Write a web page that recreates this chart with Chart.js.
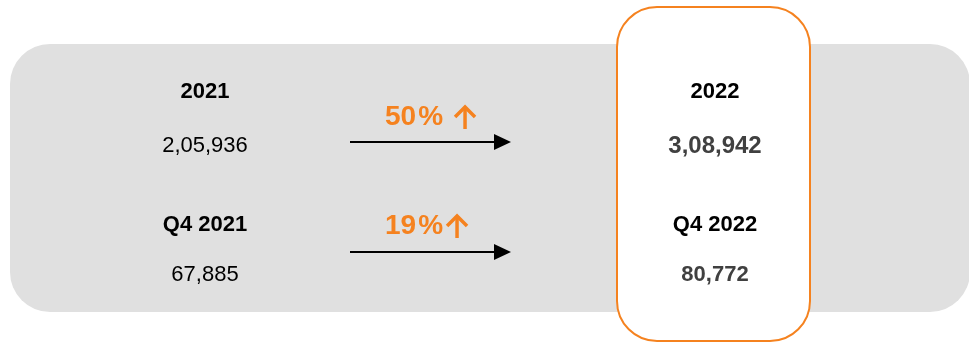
<!DOCTYPE html>
<html>
<head>
<meta charset="utf-8">
<script src="https://cdn.jsdelivr.net/npm/chart.js@4.4.1/dist/chart.umd.min.js"></script>
<style>
  html, body { margin: 0; padding: 0; background: #fff; }
  #wrap { width: 969px; height: 343px; }
</style>
</head>
<body>
<div id="wrap"><canvas id="growthChart" width="969" height="343"></canvas></div>
<script>
// data
const periodLabels = ['2021', 'Q4 2021'];
const currentLabels = ['2022', 'Q4 2022'];
const previousValues = [205936, 67885];
const currentValues = [308942, 80772];
const growthPct = [50, 19];

// layout (in scale units = px of the 969x343 box)
const layout = {
    prevX: 205, currX: 715, pctX: 385,
    arrowFrom: 350, arrowTo: 511,
    labelY: [92, 225], valueY: [146, 275], pctY: [117, 226], arrowY: [142, 252],
    upGap: [11, 3],
    currValueSize: [24, 22]
};

const ORANGE = '#f5821f';

function fmtIN(n) {
    const s = String(n);
    if (s.length <= 3) return s;
    const last3 = s.slice(-3);
    const rest = s.slice(0, -3).replace(/\B(?=(\d{2})+(?!\d))/g, ',');
    return rest + ',' + last3;
}

function roundRect(ctx, x, y, w, h, r) {
    ctx.beginPath();
    ctx.moveTo(x + r, y);
    ctx.lineTo(x + w - r, y);
    ctx.arcTo(x + w, y, x + w, y + r, r);
    ctx.lineTo(x + w, y + h - r);
    ctx.arcTo(x + w, y + h, x + w - r, y + h, r);
    ctx.lineTo(x + r, y + h);
    ctx.arcTo(x, y + h, x, y + h - r, r);
    ctx.lineTo(x, y + r);
    ctx.arcTo(x, y, x + r, y, r);
    ctx.closePath();
}

const infographic = {
    id: 'infographic',
    beforeDatasetsDraw(chart) {
        const ctx = chart.ctx;
        const X = v => chart.scales.x.getPixelForValue(v);
        const Y = v => chart.scales.y.getPixelForValue(v);
        ctx.save();

        // grey band
        ctx.fillStyle = '#e0e0e0';
        roundRect(ctx, X(10), Y(44), X(970) - X(10), Y(312) - Y(44), 40);
        ctx.fill();

        // highlighted current column
        ctx.fillStyle = '#ffffff';
        ctx.strokeStyle = ORANGE;
        ctx.lineWidth = 2;
        roundRect(ctx, X(617), Y(7), X(810) - X(617), Y(341) - Y(7), 40);
        ctx.fill();
        ctx.stroke();

        ctx.textAlign = 'center';
        ctx.textBaseline = 'middle';
        const ff = '"Liberation Sans", Arial, sans-serif';

        periodLabels.forEach((lab, i) => {
            // previous period
            ctx.fillStyle = '#000';
            ctx.font = 'bold 22px ' + ff;
            ctx.fillText(lab, X(layout.prevX), Y(layout.labelY[i]));
            ctx.font = '22px ' + ff;
            ctx.fillText(fmtIN(previousValues[i]), X(layout.prevX), Y(layout.valueY[i]));

            // current period
            ctx.font = 'bold 22px ' + ff;
            ctx.fillText(currentLabels[i], X(layout.currX), Y(layout.labelY[i]));
            ctx.fillStyle = '#404040';
            ctx.font = 'bold ' + layout.currValueSize[i] + 'px ' + ff;
            ctx.fillText(fmtIN(currentValues[i]), X(layout.currX), Y(layout.valueY[i]));

            // growth text
            ctx.fillStyle = ORANGE;
            ctx.font = 'bold 28px ' + ff;
            ctx.textAlign = 'left';
            const num = String(growthPct[i]);
            const nw = ctx.measureText(num).width;
            ctx.fillText(num, X(layout.pctX), Y(layout.pctY[i]));
            ctx.fillText('%', X(layout.pctX) + nw + 2, Y(layout.pctY[i]));
            ctx.textAlign = 'center';
            const w = nw + 2 + ctx.measureText('%').width;
            const ax = X(layout.pctX) + w + layout.upGap[i] + 11;
            const ay = Y(layout.pctY[i]);
            ctx.strokeStyle = ORANGE;
            ctx.lineWidth = 3.5;
            ctx.lineCap = 'butt';
            ctx.beginPath();
            ctx.moveTo(ax, ay + 12);
            ctx.lineTo(ax, ay - 9);
            ctx.stroke();
            ctx.beginPath();
            ctx.moveTo(ax - 10, ay);
            ctx.lineTo(ax, ay - 10);
            ctx.lineTo(ax + 10, ay);
            ctx.stroke();

            // black arrow
            const y = Y(layout.arrowY[i]);
            ctx.strokeStyle = '#000';
            ctx.lineWidth = 2;
            ctx.beginPath();
            ctx.moveTo(X(layout.arrowFrom), y);
            ctx.lineTo(X(layout.arrowTo) - 14, y);
            ctx.stroke();
            ctx.fillStyle = '#000';
            ctx.beginPath();
            ctx.moveTo(X(layout.arrowTo), y);
            ctx.lineTo(X(layout.arrowTo) - 17, y - 8);
            ctx.lineTo(X(layout.arrowTo) - 17, y + 8);
            ctx.closePath();
            ctx.fill();
        });
        ctx.restore();
    }
};

new Chart(document.getElementById('growthChart').getContext('2d'), {
    type: 'scatter',
    data: {
        datasets: [{
            label: 'values',
            data: previousValues.map((v, i) => ({ x: layout.prevX, y: layout.valueY[i] }))
                .concat(currentValues.map((v, i) => ({ x: layout.currX, y: layout.valueY[i] }))),
            pointRadius: 0
        }]
    },
    options: {
        responsive: false,
        animation: false,
        devicePixelRatio: 1,
        layout: { padding: 0 },
        scales: {
            x: { type: 'linear', min: 0, max: 969, display: false },
            y: { type: 'linear', min: 0, max: 343, reverse: true, display: false }
        },
        plugins: { legend: { display: false }, tooltip: { enabled: false } }
    },
    plugins: [infographic]
});
</script>
</body>
</html>
